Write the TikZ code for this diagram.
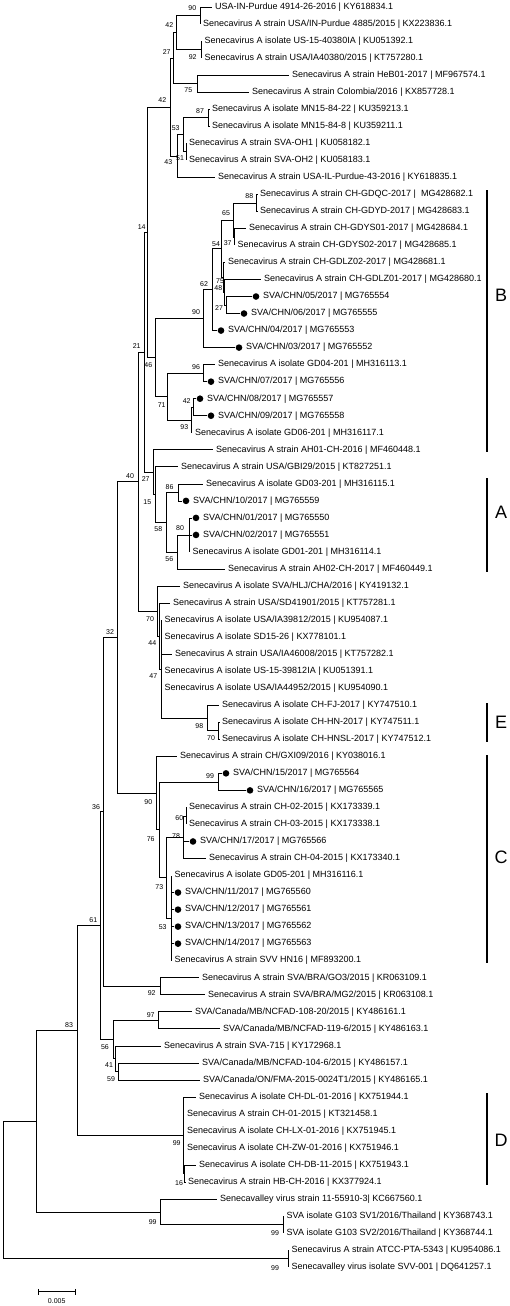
\documentclass[tikz,border=0pt]{standalone}
\usepackage{fontspec}
\setmainfont{Liberation Sans}
\usetikzlibrary{calc}
\newcommand{\tleaf}[3]{\coordinate (L#1) at (#2,{7+(#1-1)*17.03});
  \node[lbl] (T#1) at ([xshift=3pt]L#1) {#3};}
\newcommand{\dleaf}[3]{\coordinate (L#1) at (#2,{7+(#1-1)*17.03});
  \node[dotn] (D#1) at ([xshift=4pt]L#1) {};
  \node[lbl] (T#1) at ([xshift=11pt]L#1) {#3};}
\newcommand{\inode}[4]{\coordinate (tmpmid) at ($(#3)!0.5!(#4)$);
  \coordinate (#1) at (#2,0 |- tmpmid);}
\newcommand{\kids}[2]{\foreach \c in {#2}{\draw[br] (#1) |- (\c);}}
\begin{document}
\begin{tikzpicture}[x=1pt,y=-1pt,
  br/.style={line width=0.65pt},
  lbl/.style={anchor=west,inner sep=0pt,font=\fontsize{9}{10}\selectfont},
  bs/.style={inner sep=0pt,font=\fontsize{7}{8}\selectfont},
  dotn/.style={circle,fill=black,inner sep=0pt,minimum size=6.6pt},
  bar/.style={line width=1.4pt},
  clade/.style={inner sep=0pt,font=\fontsize{18}{20}\selectfont}]
\useasboundingbox (0,0) rectangle (510,1306);
% ---------- leaves
\tleaf{1}{212}{USA-IN-Purdue 4914-26-2016 | KY618834.1}
\tleaf{2}{200}{Senecavirus A strain USA/IN-Purdue 4885/2015 | KX223836.1}
\tleaf{3}{201.5}{Senecavirus A isolate US-15-40380IA | KU051392.1}
\tleaf{4}{201.5}{Senecavirus A strain USA/IA40380/2015 | KT757280.1}
\tleaf{5}{289}{Senecavirus A strain HeB01-2017 | MF967574.1}
\tleaf{6}{249}{Senecavirus A strain Colombia/2016 | KX857728.1}
\tleaf{7}{209}{Senecavirus A isolate MN15-84-22 | KU359213.1}
\tleaf{8}{209}{Senecavirus A isolate MN15-84-8 | KU359211.1}
\tleaf{9}{186}{Senecavirus A strain SVA-OH1 | KU058182.1}
\tleaf{10}{186}{Senecavirus A strain SVA-OH2 | KU058183.1}
\tleaf{11}{215}{Senecavirus A strain USA-IL-Purdue-43-2016 | KY618835.1}
\tleaf{12}{257}{Senecavirus A strain CH-GDQC-2017 |\ \ MG428682.1}
\tleaf{13}{257}{Senecavirus A strain CH-GDYD-2017 | MG428683.1}
\tleaf{14}{246}{Senecavirus A strain CH-GDYS01-2017 | MG428684.1}
\tleaf{15}{234.5}{Senecavirus A strain CH-GDYS02-2017 | MG428685.1}
\tleaf{16}{225}{Senecavirus A strain CH-GDLZ02-2017 | MG428681.1}
\tleaf{17}{261}{Senecavirus A strain CH-GDLZ01-2017 | MG428680.1}
\dleaf{18}{252}{SVA/CHN/05/2017 | MG765554}
\dleaf{19}{240}{SVA/CHN/06/2017 | MG765555}
\dleaf{20}{217}{SVA/CHN/04/2017 | MG765553}
\dleaf{21}{235}{SVA/CHN/03/2017 | MG765552}
\tleaf{22}{215}{Senecavirus A isolate GD04-201 | MH316113.1}
\dleaf{23}{207}{SVA/CHN/07/2017 | MG765556}
\dleaf{24}{196}{SVA/CHN/08/2017 | MG765557}
\dleaf{25}{207}{SVA/CHN/09/2017 | MG765558}
\tleaf{26}{192}{Senecavirus A isolate GD06-201 | MH316117.1}
\tleaf{27}{213}{Senecavirus A strain AH01-CH-2016 | MF460448.1}
\tleaf{28}{178}{Senecavirus A strain USA/GBI29/2015 | KT827251.1}
\tleaf{29}{203}{Senecavirus A isolate GD03-201 | MH316115.1}
\dleaf{30}{182}{SVA/CHN/10/2017 | MG765559}
\dleaf{31}{192}{SVA/CHN/01/2017 | MG765550}
\dleaf{32}{192}{SVA/CHN/02/2017 | MG765551}
\tleaf{33}{189.5}{Senecavirus A isolate GD01-201 | MH316114.1}
\tleaf{34}{225}{Senecavirus A strain AH02-CH-2017 | MF460449.1}
\tleaf{35}{180}{Senecavirus A isolate SVA/HLJ/CHA/2016 | KY419132.1}
\tleaf{36}{170}{Senecavirus A strain USA/SD41901/2015 | KT757281.1}
\tleaf{37}{161.5}{Senecavirus A isolate USA/IA39812/2015 | KU954087.1}
\tleaf{38}{161.5}{Senecavirus A isolate SD15-26 | KX778101.1}
\tleaf{39}{172}{Senecavirus A strain USA/IA46008/2015 | KT757282.1}
\tleaf{40}{161.5}{Senecavirus A isolate US-15-39812IA | KU051391.1}
\tleaf{41}{161.5}{Senecavirus A isolate USA/IA44952/2015 | KU954090.1}
\tleaf{42}{219}{Senecavirus A isolate CH-FJ-2017 | KY747510.1}
\tleaf{43}{219}{Senecavirus A isolate CH-HN-2017 | KY747511.1}
\tleaf{44}{219}{Senecavirus A isolate CH-HNSL-2017 | KY747512.1}
\tleaf{45}{177}{Senecavirus A strain CH/GXI09/2016 | KY038016.1}
\dleaf{46}{222}{SVA/CHN/15/2017 | MG765564}
\dleaf{47}{246}{SVA/CHN/16/2017 | MG765565}
\tleaf{48}{186}{Senecavirus A strain CH-02-2015 | KX173339.1}
\tleaf{49}{186}{Senecavirus A strain CH-03-2015 | KX173338.1}
\dleaf{50}{189}{SVA/CHN/17/2017 | MG765566}
\tleaf{51}{206}{Senecavirus A strain CH-04-2015 | KX173340.1}
\tleaf{52}{171.5}{Senecavirus A isolate GD05-201 | MH316116.1}
\dleaf{53}{174}{SVA/CHN/11/2017 | MG765560}
\dleaf{54}{174}{SVA/CHN/12/2017 | MG765561}
\dleaf{55}{174}{SVA/CHN/13/2017 | MG765562}
\dleaf{56}{174}{SVA/CHN/14/2017 | MG765563}
\tleaf{57}{171.5}{Senecavirus A strain SVV HN16 | MF893200.1}
\tleaf{58}{199}{Senecavirus A strain SVA/BRA/GO3/2015 | KR063109.1}
\tleaf{59}{205}{Senecavirus A strain SVA/BRA/MG2/2015 | KR063108.1}
\tleaf{60}{192}{SVA/Canada/MB/NCFAD-108-20/2015 | KY486161.1}
\tleaf{61}{220}{SVA/Canada/MB/NCFAD-119-6/2015 | KY486163.1}
\tleaf{62}{161}{Senecavirus A strain SVA-715 | KY172968.1}
\tleaf{63}{199}{SVA/Canada/MB/NCFAD-104-6/2015 | KY486157.1}
\tleaf{64}{200}{SVA/Canada/ON/FMA-2015-0024T1/2015 | KY486165.1}
\tleaf{65}{196}{Senecavirus A isolate CH-DL-01-2016 | KX751944.1}
\tleaf{66}{184}{Senecavirus A strain CH-01-2015 | KT321458.1}
\tleaf{67}{184}{Senecavirus A isolate CH-LX-01-2016 | KX751945.1}
\tleaf{68}{184}{Senecavirus A isolate CH-ZW-01-2016 | KX751946.1}
\tleaf{69}{196}{Senecavirus A isolate CH-DB-11-2015 | KX751943.1}
\tleaf{70}{185}{Senecavirus A strain HB-CH-2016 | KX377924.1}
\tleaf{71}{217}{Senecavalley virus strain 11-55910-3| KC667560.1}
\tleaf{72}{283.5}{SVA isolate G103 SV1/2016/Thailand | KY368743.1}
\tleaf{73}{283.5}{SVA isolate G103 SV2/2016/Thailand | KY368744.1}
\tleaf{74}{288.5}{Senecavirus A strain ATCC-PTA-5343 | KU954086.1}
\tleaf{75}{288.5}{Senecavalley virus isolate SVV-001 | DQ641257.1}
% ---------- internal nodes (x, first child, last child)
\inode{n90a}{200}{L1}{L2}
\inode{n92a}{201.5}{L3}{L4}
\inode{n42a}{176}{n90a}{n92a}
\inode{n75a}{197}{L5}{L6}
\inode{n27a}{173}{n42a}{n75a}
\inode{n87}{208.5}{L7}{L8}
\inode{n51}{186}{L9}{L10}
\inode{n53a}{183}{n87}{n51}
\inode{n43}{177}{n53a}{L11}
\inode{n42b}{170}{n27a}{n43}
\inode{n88}{256.5}{L12}{L13}
\inode{n37}{234.5}{L14}{L15}
\inode{n65}{233}{n88}{n37}
\inode{n27b}{226}{L18}{L19}
\inode{n48}{224}{L17}{n27b}
\inode{n75b}{223}{L16}{n48}
\inode{n54}{221}{n65}{n75b}
\inode{n62}{212}{n54}{L20}
\inode{n90b}{203}{n62}{L21}
\inode{n96}{203}{L22}{L23}
\inode{n42c}{193}{L24}{L25}
\inode{n93}{191}{n42c}{L26}
\inode{n71}{167}{n96}{n93}
\inode{n46}{155}{n90b}{n71}
\inode{n14}{147}{n42b}{n46}
\inode{n86}{178}{L29}{L30}
\inode{n80}{189.5}{L31}{L33}
\inode{n56b}{177}{n80}{L34}
\inode{n58}{166}{n86}{n56b}
\inode{n15}{155}{L28}{n58}
\inode{n27c}{153}{L27}{n15}
\inode{n21}{144}{n14}{n27c}
\inode{n70b}{218.5}{L43}{L44}
\inode{n98}{207}{L42}{n70b}
\inode{n47}{161.5}{L37}{n98}
\inode{n44}{159.5}{L36}{n47}
\inode{n70a}{157}{L35}{n44}
\inode{n40}{138}{n21}{n70a}
\inode{n99b}{218}{L46}{L47}
\inode{n60}{186}{L48}{L49}
\inode{n78}{183}{n60}{L51}
\inode{n53b}{171.5}{L52}{L57}
\inode{n73}{166}{n78}{n53b}
\inode{n76}{159}{n99b}{n73}
\inode{n90c}{156}{L45}{n76}
\inode{n32}{117}{n40}{n90c}
\inode{n92b}{160}{L58}{L59}
\inode{n36}{103}{n32}{n92b}
\inode{n97}{158}{L60}{L61}
\inode{n59}{118}{L63}{L64}
\inode{n41}{115}{L62}{n59}
\inode{n56c}{113}{n97}{n41}
\inode{n61}{100}{n36}{n56c}
\inode{n16}{184.5}{L69}{L70}
\inode{n99D}{183}{L65}{n16}
\inode{n83}{77}{n61}{n99D}
\inode{n99F}{283.5}{L72}{L73}
\inode{n99E}{160}{L71}{n99F}
\inode{nA}{36}{n83}{n99E}
\inode{n99G}{288.5}{L74}{L75}
\inode{root}{3}{nA}{n99G}
% ---------- branches
\kids{n90a}{L1,L2}
\kids{n92a}{L3,L4}
\kids{n42a}{n90a,n92a}
\kids{n75a}{L5,L6}
\kids{n27a}{n42a,n75a}
\kids{n87}{L7,L8}
\kids{n51}{L9,L10}
\kids{n53a}{n87,n51}
\kids{n43}{n53a,L11}
\kids{n42b}{n27a,n43}
\kids{n88}{L12,L13}
\kids{n37}{L14,L15}
\kids{n65}{n88,n37}
\kids{n27b}{L18,L19}
\kids{n48}{L17,n27b}
\kids{n75b}{L16,n48}
\kids{n54}{n65,n75b}
\kids{n62}{n54,L20}
\kids{n90b}{n62,L21}
\kids{n96}{L22,L23}
\kids{n42c}{L24,L25}
\kids{n93}{n42c,L26}
\kids{n71}{n96,n93}
\kids{n46}{n90b,n71}
\kids{n14}{n42b,n46}
\kids{n86}{L29,L30}
\kids{n80}{L31,L32,L33}
\kids{n56b}{n80,L34}
\kids{n58}{n86,n56b}
\kids{n15}{L28,n58}
\kids{n27c}{L27,n15}
\kids{n21}{n14,n27c}
\kids{n70b}{L43,L44}
\kids{n98}{L42,n70b}
\kids{n47}{L37,L38,L39,L40,L41,n98}
\kids{n44}{L36,n47}
\kids{n70a}{L35,n44}
\kids{n40}{n21,n70a}
\kids{n99b}{L46,L47}
\kids{n60}{L48,L49}
\kids{n78}{n60,L50,L51}
\kids{n53b}{L52,L53,L54,L55,L56,L57}
\kids{n73}{n78,n53b}
\kids{n76}{n99b,n73}
\kids{n90c}{L45,n76}
\kids{n32}{n40,n90c}
\kids{n92b}{L58,L59}
\kids{n36}{n32,n92b}
\kids{n97}{L60,L61}
\kids{n59}{L63,L64}
\kids{n41}{L62,n59}
\kids{n56c}{n97,n41}
\kids{n61}{n36,n56c}
\kids{n16}{L69,L70}
\kids{n99D}{L65,L66,L67,L68,n16}
\kids{n83}{n61,n99D}
\kids{n99F}{L72,L73}
\kids{n99E}{L71,n99F}
\kids{nA}{n83,n99E}
\kids{n99G}{L74,L75}
\kids{root}{nA,n99G}
% ---------- bootstrap values
\node[bs] (b1) at (192.3,8.3) {90};
\node[bs] (b2) at (169.3,25) {42};
\node[bs] (b3) at (192.7,56.7) {92};
\node[bs] (b4) at (166.7,51.7) {27};
\node[bs] (b5) at (188.3,90) {75};
\node[bs] (b6) at (162.3,100) {42};
\node[bs] (b7) at (200,111) {87};
\node[bs] (b8) at (175.7,128.3) {53};
\node[bs] (b9) at (180,158.3) {51};
\node[bs] (b10) at (168.3,162.3) {43};
\node[bs] (b11) at (249.3,196) {88};
\node[bs] (b12) at (226,213.3) {65};
\node[bs] (b13) at (141.7,226.7) {14};
\node[bs] (b14) at (216,244.3) {54};
\node[bs] (b15) at (227.7,243.3) {37};
\node[bs] (b16) at (220,280.7) {75};
\node[bs] (b17) at (218.3,288.3) {48};
\node[bs] (b18) at (204,284) {62};
\node[bs] (b19) at (219,307.7) {27};
\node[bs] (b20) at (196,312.3) {90};
\node[bs] (b21) at (136.7,346) {21};
\node[bs] (b22) at (148.3,365) {46};
\node[bs] (b23) at (196,366.7) {96};
\node[bs] (b24) at (186.7,400.7) {42};
\node[bs] (b25) at (161.7,405) {71};
\node[bs] (b26) at (184.3,426.7) {93};
\node[bs] (b27) at (130,476) {40};
\node[bs] (b28) at (145.7,479.3) {27};
\node[bs] (b29) at (169.5,486.7) {86};
\node[bs] (b30) at (147.3,501.7) {15};
\node[bs] (b31) at (158.3,529.3) {58};
\node[bs] (b32) at (180,528.3) {80};
\node[bs] (b33) at (169.3,559.3) {56};
\node[bs] (b34) at (150,619) {70};
\node[bs] (b35) at (110,632.3) {32};
\node[bs] (b36) at (152.3,643.3) {44};
\node[bs] (b37) at (153.3,676) {47};
\node[bs] (b38) at (199.3,726) {98};
\node[bs] (b39) at (211,738.3) {70};
\node[bs] (b40) at (210,776) {99};
\node[bs] (b41) at (96,806.7) {36};
\node[bs] (b42) at (148.3,801.7) {90};
\node[bs] (b43) at (179.3,818.3) {60};
\node[bs] (b44) at (150.7,839.3) {76};
\node[bs] (b45) at (176,836) {78};
\node[bs] (b46) at (159.3,887.3) {73};
\node[bs] (b47) at (93.3,920) {61};
\node[bs] (b48) at (162.7,926.7) {53};
\node[bs] (b49) at (151.7,993.3) {92};
\node[bs] (b50) at (150.7,1015) {97};
\node[bs] (b51) at (69,1025) {83};
\node[bs] (b52) at (105,1047.3) {56};
\node[bs] (b53) at (109,1065) {41};
\node[bs] (b54) at (111,1079.3) {59};
\node[bs] (b55) at (176.7,1143.3) {99};
\node[bs] (b56) at (179,1182.7) {16};
\node[bs] (b57) at (152.7,1222.3) {99};
\node[bs] (b58) at (275,1233.3) {99};
\node[bs] (b59) at (275,1268.3) {99};
% ---------- clade bars
\coordinate (B1) at (487,190); \coordinate (B2) at (487,452);
\coordinate (A1) at (487,478); \coordinate (A2) at (487,572);
\coordinate (E1) at (487,703); \coordinate (E2) at (487,742);
\coordinate (C1) at (487,755); \coordinate (C2) at (487,963);
\coordinate (D1) at (487,1093); \coordinate (D2) at (487,1185);
\draw[bar] (B1) -- (B2);
\draw[bar] (A1) -- (A2);
\draw[bar] (E1) -- (E2);
\draw[bar] (C1) -- (C2);
\draw[bar] (D1) -- (D2);
\node[clade] (cB) at (501,295) {B};
\node[clade] (cA) at (501,512) {A};
\node[clade] (cE) at (501,722) {E};
\node[clade] (cC) at (501,857) {C};
\node[clade] (cD) at (501,1140) {D};
% ---------- scale bar
\coordinate (s1) at (38.3,1291.7); \coordinate (s2) at (75,1291.7);
\draw[br] (s1) -- (s2);
\draw[br] ([yshift=2.8pt]s1) -- ([yshift=-2.8pt]s1);
\draw[br] ([yshift=2.8pt]s2) -- ([yshift=-2.8pt]s2);
\node[bs] (sl) at (56.7,1300.7) {0.005};
\end{tikzpicture}
\end{document}
